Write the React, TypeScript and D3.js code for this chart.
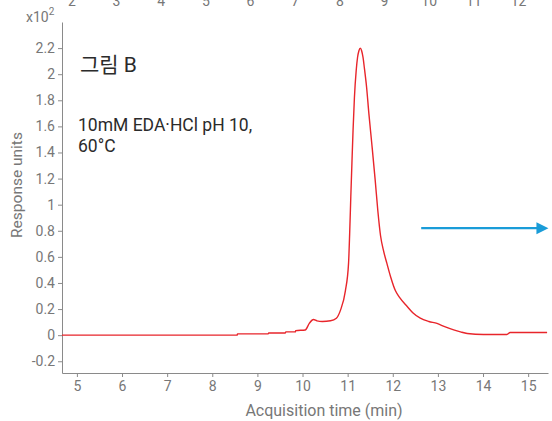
import { useEffect, useRef } from "react";
import * as d3 from "d3";

// chromatogram trace (time in min, response x10^2)
const traceTime = [4.67, 8.55, 8.56, 9.24, 9.25, 9.62, 9.63, 9.84, 9.85, 10.06, 10.15, 10.24, 10.32, 10.44, 10.62, 10.75, 10.84, 10.95, 11.02, 11.045, 11.07, 11.095, 11.12, 11.15, 11.19, 11.22, 11.25, 11.28, 11.31, 11.34, 11.37, 11.42, 11.47, 11.54, 11.61, 11.67, 11.73, 11.8, 11.87, 11.95, 12.06, 12.15, 12.32, 12.45, 12.61, 12.8, 12.98, 13.15, 13.35, 13.5, 13.65, 14.01, 14.53, 14.6, 15.42];
const traceValue = [0, 0, 0.01, 0.01, 0.017, 0.017, 0.025, 0.025, 0.035, 0.04, 0.09, 0.12, 0.11, 0.105, 0.11, 0.13, 0.19, 0.34, 0.55, 0.78, 1.06, 1.32, 1.57, 1.82, 2.03, 2.13, 2.18, 2.2, 2.18, 2.13, 2.05, 1.9, 1.7, 1.45, 1.19, 0.95, 0.76, 0.64, 0.55, 0.45, 0.34, 0.29, 0.22, 0.17, 0.13, 0.105, 0.09, 0.065, 0.04, 0.025, 0.013, 0.005, 0.005, 0.02, 0.02];

const xTicks = [5, 6, 7, 8, 9, 10, 11, 12, 13, 14, 15];
const topTicks = [2, 3, 4, 5, 6, 7, 8, 9, 10, 11, 12];
const yTicks = [-0.2, 0, 0.2, 0.4, 0.6, 0.8, 1, 1.2, 1.4, 1.6, 1.8, 2, 2.2];

const title = "그림 B";
const noteLines = ["10mM EDA·HCl pH 10,", "60°C"];
const arrowFrom = 12.63;
const arrowTo = 15.45;
const arrowLevel = 0.82;

export default function App() {
    const ref = useRef<SVGSVGElement>(null);

    useEffect(() => {
        if (!ref.current) return;
        const svg = d3.select(ref.current);
        svg.selectAll("*").remove();

        const width = 552;
        const height = 421;
        const margin = { top: 22, right: 4, bottom: 48, left: 62 };
        const axisColor = "#8a8a8a";
        const textColor = "#777";

        const x = d3.scaleLinear().domain([4.67, 15.44]).range([margin.left, width - margin.right]);
        const y = d3.scaleLinear().domain([-0.29, 2.4]).range([height - margin.bottom, margin.top]);
        const xTop = d3.scaleLinear().domain([1.78, 12.66]).range([margin.left, width - margin.right]);

        const font = "Roboto, 'Noto Sans CJK KR', sans-serif";

        // bottom axis
        const gx = svg.append("g")
            .attr("transform", `translate(0, ${height - margin.bottom})`)
            .call(d3.axisBottom(x).tickValues(xTicks).tickSize(4).tickSizeOuter(0).tickPadding(4));
        gx.select(".domain").attr("stroke", axisColor);
        gx.selectAll("line").attr("stroke", axisColor);
        gx.selectAll("text").attr("fill", textColor).style("font-size", "14px").style("font-family", font);

        // left axis
        const gy = svg.append("g")
            .attr("transform", `translate(${margin.left}, 0)`)
            .call(d3.axisLeft(y).tickValues(yTicks).tickSize(4).tickSizeOuter(0).tickPadding(3)
                .tickFormat(d => String(+(+d).toFixed(1))));
        gy.select(".domain").attr("stroke", axisColor);
        gy.selectAll("line").attr("stroke", axisColor);
        gy.selectAll("text").attr("fill", textColor).style("font-size", "14px").style("font-family", font);

        // top labels (cut by the edge, as in the source)
        svg.append("g").selectAll("text")
            .data(topTicks)
            .join("text")
            .attr("x", d => xTop(d))
            .attr("y", 6)
            .attr("text-anchor", "middle")
            .attr("fill", textColor)
            .style("font-size", "14px")
            .style("font-family", font)
            .text(d => d);

        // x10^2 multiplier
        const mult = svg.append("text")
            .attr("x", 26)
            .attr("y", 22)
            .attr("fill", textColor)
            .style("font-size", "14px")
            .style("font-family", font);
        mult.append("tspan").text("x10");
        mult.append("tspan").attr("dy", -7).style("font-size", "10px").text("2");

        // axis titles
        svg.append("text")
            .attr("x", 324)
            .attr("y", 416)
            .attr("text-anchor", "middle")
            .attr("fill", textColor)
            .style("font-size", "16px")
            .style("font-family", font)
            .text("Acquisition time (min)");

        svg.append("text")
            .attr("transform", "rotate(-90)")
            .attr("x", -185)
            .attr("y", 22)
            .attr("text-anchor", "middle")
            .attr("fill", textColor)
            .style("font-size", "15.5px")
            .style("font-family", font)
            .text("Response units");

        // trace
        const points = traceTime.map((t, i) => [t, traceValue[i]] as [number, number]);
        svg.append("path")
            .datum(points)
            .attr("d", d3.line<[number, number]>().x(d => x(d[0])).y(d => y(d[1])).curve(d3.curveMonotoneX))
            .attr("fill", "none")
            .attr("stroke", "#e8252b")
            .attr("stroke-width", 1.4);

        // annotations
        svg.append("text")
            .attr("x", 80)
            .attr("y", 72)
            .attr("fill", "#2b2b2b")
            .style("font-size", "21px")
            .style("font-family", font)
            .text(title);

        svg.append("g").selectAll("text")
            .data(noteLines)
            .join("text")
            .attr("x", 78)
            .attr("y", (_, i) => 131 + i * 21)
            .attr("fill", "#2b2b2b")
            .style("font-size", "17.5px")
            .style("font-family", font)
            .text(d => d);

        // arrow
        const ay = y(arrowLevel);
        const x1 = x(arrowFrom);
        const x2 = x(arrowTo);
        svg.append("line")
            .attr("x1", x1).attr("x2", x2 - 10)
            .attr("y1", ay).attr("y2", ay)
            .attr("stroke", "#1a9cd8")
            .attr("stroke-width", 2.2);
        svg.append("path")
            .attr("d", `M${x2 - 12},${ay - 6} L${x2},${ay} L${x2 - 12},${ay + 6} Z`)
            .attr("fill", "#1a9cd8");
    }, []);

    return (
        <div style={{ position: "fixed", top: 0, left: 0 }}>
            <svg ref={ref} width={552} height={421} style={{ display: "block", background: "#fff" }} />
        </div>
    );
}
